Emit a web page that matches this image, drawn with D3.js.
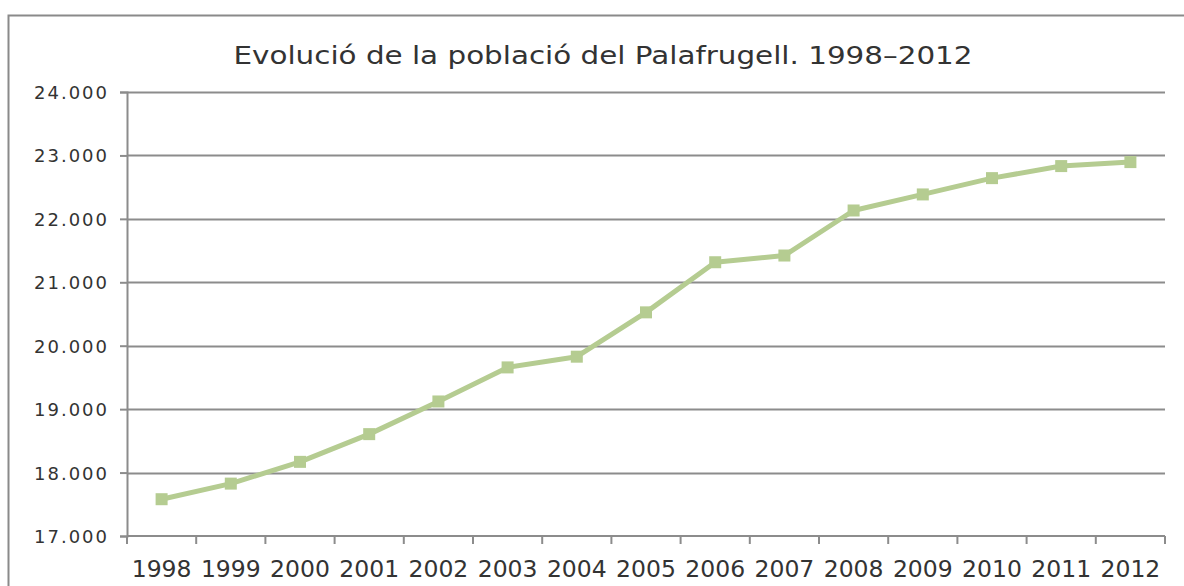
<!DOCTYPE html>
<html>
<head>
<meta charset="utf-8">
<script src="https://d3js.org/d3.v7.min.js"></script>
<style>
  html, body { margin: 0; padding: 0; background: #fff; }
  svg { display: block; }
</style>
</head>
<body>
<div id="chart"></div>
<script>
// population of Palafrugell
const YEARS = ["1998","1999","2000","2001","2002","2003","2004","2005","2006","2007","2008","2009","2010","2011","2012"];
const POPULATION = [17580, 17826, 18169, 18606, 19121, 19658, 19827, 20526, 21316, 21422, 22132, 22385, 22642, 22832, 22895];
const Y_TICKS = [17000, 18000, 19000, 20000, 21000, 22000, 23000, 24000];
const TITLE = "Evolució de la població del Palafrugell. 1998–2012";

const width = 1184, height = 586;
const margin = { top: 92, right: 19, bottom: 50, left: 127 };
const innerW = width - margin.left - margin.right;
const innerH = 536 - margin.top;

const LINE_COLOR = "#b5cc91";
const GRID_COLOR = "#8c8c8c";
const TEXT_COLOR = "#333333";
const FONT = "'DejaVu Sans', 'Liberation Sans', sans-serif";

const svg = d3.select("#chart").append("svg")
  .attr("width", width)
  .attr("height", height);

// outer chart frame (runs off the right and bottom of the picture)
svg.append("rect")
  .attr("x", 8.5).attr("y", 15.5)
  .attr("width", 1200).attr("height", 600)
  .attr("fill", "none")
  .attr("stroke", "#8a8a8a")
  .attr("stroke-width", 2);

svg.append("text")
  .attr("x", 603).attr("y", 64)
  .attr("text-anchor", "middle")
  .attr("textLength", 739)
  .attr("lengthAdjust", "spacingAndGlyphs")
  .style("font-family", FONT)
  .style("font-size", "25px")
  .style("fill", TEXT_COLOR)
  .text(TITLE);

const g = svg.append("g").attr("transform", `translate(${margin.left},${margin.top})`);

const x = d3.scaleBand().domain(YEARS).range([0, innerW]);
const y = d3.scaleLinear().domain([17000, 24000]).range([innerH, 0]);

const fmt = d => d3.format(",")(d).replace(/,/g, ".");

// horizontal gridlines
g.selectAll("line.grid")
  .data(Y_TICKS.slice(1))
  .join("line")
  .attr("class", "grid")
  .attr("x1", 0).attr("x2", innerW)
  .attr("y1", d => Math.round(y(d)) + 0.5)
  .attr("y2", d => Math.round(y(d)) + 0.5)
  .attr("stroke", GRID_COLOR)
  .attr("stroke-width", 2);

// y axis
const yAxis = g.append("g")
  .call(d3.axisLeft(y).tickValues(Y_TICKS).tickFormat(fmt).tickSize(7).tickPadding(11));
yAxis.select(".domain").attr("stroke", GRID_COLOR).attr("stroke-width", 2);
yAxis.selectAll(".tick line").attr("stroke", GRID_COLOR).attr("stroke-width", 2);
yAxis.selectAll(".tick text")
  .style("font-family", FONT)
  .style("font-size", "18px")
  .style("letter-spacing", "2px")
  .attr("dy", "0.36em")
  .style("fill", TEXT_COLOR);

// x axis with ticks on the band boundaries
const xAxis = g.append("g").attr("transform", `translate(0,${innerH})`);
xAxis.append("line")
  .attr("x1", 0).attr("x2", innerW)
  .attr("y1", 0).attr("y2", 0)
  .attr("stroke", GRID_COLOR).attr("stroke-width", 2);
const bounds = YEARS.map(d => x(d)).concat([innerW]);
xAxis.selectAll("line.tick")
  .data(bounds)
  .join("line")
  .attr("class", "tick")
  .attr("x1", d => d).attr("x2", d => d)
  .attr("y1", 0).attr("y2", 8)
  .attr("stroke", GRID_COLOR).attr("stroke-width", 2);
xAxis.selectAll("text")
  .data(YEARS)
  .join("text")
  .attr("x", d => x(d) + x.bandwidth() / 2)
  .attr("y", 41)
  .attr("text-anchor", "middle")
  .style("font-family", FONT)
  .style("font-size", "23.5px")
  .style("fill", TEXT_COLOR)
  .text(d => d);

// the series
const pts = YEARS.map((yr, i) => ({ yr, v: POPULATION[i] }));
const line = d3.line()
  .x(d => x(d.yr) + x.bandwidth() / 2)
  .y(d => y(d.v));

g.append("path")
  .datum(pts)
  .attr("d", line)
  .attr("fill", "none")
  .attr("stroke", LINE_COLOR)
  .attr("stroke-width", 5)
  .attr("stroke-linejoin", "round");

const size = 12;
g.selectAll("rect.marker")
  .data(pts)
  .join("rect")
  .attr("class", "marker")
  .attr("x", d => x(d.yr) + x.bandwidth() / 2 - size / 2)
  .attr("y", d => y(d.v) - size / 2)
  .attr("width", size).attr("height", size)
  .attr("fill", LINE_COLOR);
</script>
</body>
</html>
